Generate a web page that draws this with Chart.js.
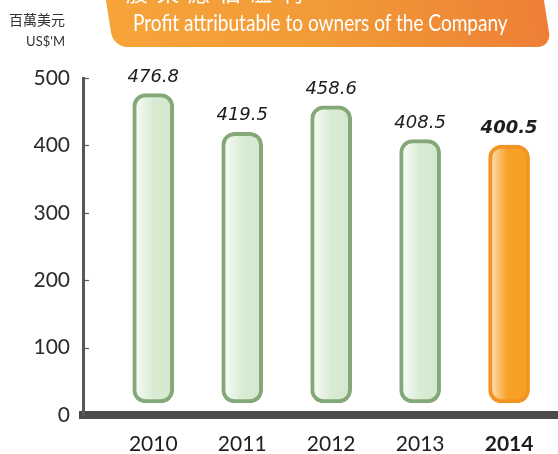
<!DOCTYPE html>
<html>
<head>
<meta charset="utf-8">
<script src="https://cdn.jsdelivr.net/npm/chart.js@4.4.1/dist/chart.umd.min.js"></script>
<style>
  html, body { margin: 0; padding: 0; background: #fff; }
  #wrap { position: relative; width: 558px; height: 454px; overflow: hidden; }
  #c { position: absolute; left: 0; top: 0; }
  .banner {
    position: absolute; left: 104px; top: -12px; width: 438px; height: 59px;
    background: linear-gradient(to right, #f6a43a, #f29a37 50%, #ed7f35);
    border-radius: 0 0 14px 14px;
    transform: skewX(9deg); transform-origin: 0 0;
  }
  .en {
    position: absolute; left: 133px; top: 8px; color: #fff; white-space: nowrap;
    font-family: "Liberation Sans Narrow", "Lato", sans-serif; font-size: 23px;
    transform-origin: 0 0;
  }
  .zh {
    position: absolute; left: 126px; top: -25px; color: #fff; white-space: nowrap;
    font-family: "Noto Sans CJK TC", sans-serif; font-size: 22px; letter-spacing: 9px;
  }
  .unit { position: absolute; right: 493px; color: #333; white-space: nowrap; }
  .u1 { top: 9px; font-family: "Noto Sans CJK TC", sans-serif; font-size: 14px; }
  .u2 { top: 33px; font-family: "Lato", sans-serif; font-size: 13px; }
</style>
</head>
<body>
<div id="wrap">
  <canvas id="c" width="558" height="454"></canvas>
  <div class="banner"></div>
  <div class="zh">股東應佔溢利</div>
  <div class="en" id="en">Profit attributable to owners of the Company</div>
  <div class="unit u1">百萬美元</div>
  <div class="unit u2">US$'M</div>
</div>
<script>
var years = [2010, 2011, 2012, 2013, 2014];
var profit = [476.8, 419.5, 458.6, 408.5, 400.5];
var yTicks = [0, 100, 200, 300, 400, 500];

// squeeze english title to the width seen in the picture
var en = document.getElementById('en');
en.style.transform = 'scaleX(' + (375 / en.offsetWidth) + ')';

var isLast = function (i) { return i === years.length - 1; };

var barFill = function (context) {
    var last = isLast(context.dataIndex);
    var x = context.chart.scales.x;
    var cx = (x && context.parsed) ? x.getPixelForValue(context.parsed.x) : NaN;
    if (!isFinite(cx)) return last ? '#f7a023' : '#d7ebd3';
    var g = context.chart.ctx.createLinearGradient(cx - 20, 0, cx + 20, 0);
    if (last) {
        g.addColorStop(0, '#fde6c8');
        g.addColorStop(0.45, '#f7a226');
        g.addColorStop(1, '#f7a023');
    } else {
        g.addColorStop(0, '#fbfdfa');
        g.addColorStop(0.5, '#d8ecd4');
        g.addColorStop(1, '#d4e8d0');
    }
    return g;
};

var valueLabels = {
    id: 'valueLabels',
    afterDatasetsDraw: function (chart) {
        var ctx = chart.ctx;
        var meta = chart.getDatasetMeta(0);
        ctx.save();
        ctx.textAlign = 'center';
        ctx.textBaseline = 'alphabetic';
        ctx.fillStyle = '#1e1e1e';
        meta.data.forEach(function (el, i) {
            ctx.font = (isLast(i) ? 'italic bold ' : 'italic ') + '18px "DejaVu Sans", sans-serif';
            ctx.fillText(profit[i].toFixed(1), el.x, el.y - 12);
        });
        ctx.restore();
    }
};

var yTickMarks = {
    id: 'yTickMarks',
    afterDraw: function (chart) {
        var ctx = chart.ctx;
        var y = chart.scales.y;
        var left = chart.chartArea.left;
        ctx.save();
        ctx.strokeStyle = '#58585a';
        ctx.lineWidth = 1.2;
        yTicks.forEach(function (v) {
            if (v === 0) return;
            var py = Math.round(y.getPixelForValue(v)) + 0.5;
            ctx.beginPath();
            ctx.moveTo(left, py);
            ctx.lineTo(left + 6, py);
            ctx.stroke();
        });
        ctx.restore();
    }
};

new Chart(document.getElementById('c'), {
    type: 'bar',
    data: {
        datasets: [{
            data: years.map(function (yr, i) { return { x: yr, y: profit[i] }; }),
            base: 18,
            barThickness: 41,
            backgroundColor: barFill,
            borderColor: function (c) { return isLast(c.dataIndex) ? '#f39322' : '#84a877'; },
            borderWidth: 4,
            borderRadius: 13,
            borderSkipped: false
        }]
    },
    options: {
        responsive: false,
        animation: false,
        layout: { padding: { top: 78, right: 0, bottom: 0, left: 0 } },
        plugins: { legend: { display: false }, tooltip: { enabled: false } },
        scales: {
            x: {
                type: 'linear',
                offset: false,
                min: 2009.21,
                max: 2014.55,
                afterBuildTicks: function (s) { s.ticks = years.map(function (v) { return { value: v }; }); },
                afterFit: function (s) { s.height = 39; },
                grid: { display: false, drawTicks: false },
                border: { display: true, color: '#4a4a4c', width: 8 },
                ticks: {
                    padding: 17,
                    color: '#1e1e1e',
                    callback: function (v) { return String(v); },
                    font: function (c) {
                        return { family: 'Lato', size: 21, weight: c.index === years.length - 1 ? 'bold' : 'normal' };
                    }
                }
            },
            y: {
                min: 0,
                max: 500,
                afterBuildTicks: function (s) { s.ticks = yTicks.map(function (v) { return { value: v }; }); },
                afterFit: function (s) { s.width = 83; },
                grid: { display: false, drawTicks: false },
                border: { display: true, color: '#58585a', width: 3 },
                ticks: { padding: 13, color: '#2a2a2a', font: { family: 'Lato', size: 21 } }
            }
        }
    },
    plugins: [valueLabels, yTickMarks]
});
</script>
</body>
</html>
